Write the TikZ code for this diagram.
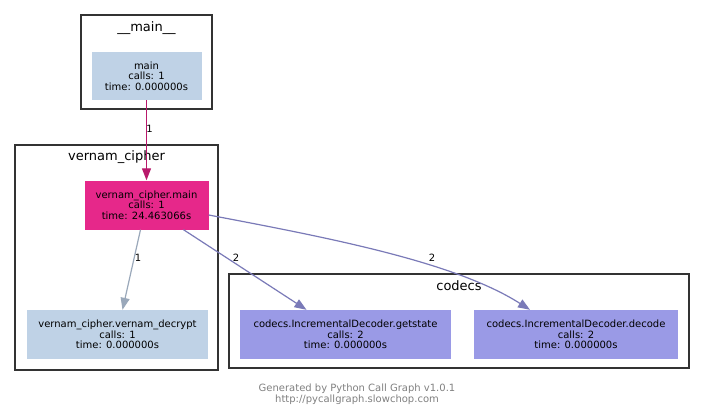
\documentclass[tikz,border=0pt]{standalone}
\usepackage{fontspec}
\setmainfont{DejaVu Sans}
\usetikzlibrary{arrows.meta,calc}
\definecolor{nodeLight}{RGB}{191,210,230}
\definecolor{nodePink}{RGB}{230,40,138}
\definecolor{nodeLav}{RGB}{154,154,230}
\definecolor{edgePink}{RGB}{184,25,107}
\definecolor{edgeGray}{RGB}{154,168,186}
\definecolor{edgeLav}{RGB}{122,122,184}
\definecolor{clusterLine}{RGB}{51,51,51}
\definecolor{footGray}{RGB}{128,128,128}
\tikzset{
  cluster/.style={draw=clusterLine, line width=2.4pt},
  ctitle/.style={font=\fontsize{13}{13}\selectfont, inner sep=0pt},
  fnode/.style={rectangle, inner sep=0pt, align=center, font=\fontsize{10}{10.5}\selectfont, minimum height=49pt},
  call/.style={line width=1.2pt, -{Triangle[length=12pt,width=9pt]}},
  elabel/.style={font=\fontsize{10}{10}\selectfont, inner sep=0pt},
}
\begin{document}
\begin{tikzpicture}[x=1pt,y=-1pt]
\useasboundingbox (0,0) rectangle (704,417);
\fill[white] (0,0) rectangle (704,417);
% clusters
\draw[cluster] (81,15) rectangle (212,109);
\node[ctitle] (tmain) at (146.5,28) {\_\_main\_\_};
\draw[cluster] (15,145) rectangle (218,370);
\node[ctitle] (tvc) at (116.5,157) {vernam\_cipher};
\draw[cluster] (229,274) rectangle (689,368);
\node[ctitle] (tcod) at (459,286) {codecs};
% nodes
\node[fnode, fill=nodeLight, minimum width=110pt, minimum height=48pt] (main) at (146.5,76) {main\\calls: 1\\time: 0.000000s};
\node[fnode, fill=nodePink, minimum width=124pt] (vmain) at (146.5,205) {vernam\_cipher.main\\calls: 1\\time: 24.463066s};
\node[fnode, fill=nodeLight, minimum width=181pt] (decrypt) at (117.5,334.5) {vernam\_cipher.vernam\_decrypt\\calls: 1\\time: 0.000000s};
\node[fnode, fill=nodeLav, minimum width=211pt] (getstate) at (345.5,334.5) {codecs.IncrementalDecoder.getstate\\calls: 2\\time: 0.000000s};
\node[fnode, fill=nodeLav, minimum width=204pt] (decode) at (576,334.5) {codecs.IncrementalDecoder.decode\\calls: 2\\time: 0.000000s};
% edges
\draw[call, draw=edgePink] (main.south) -- (vmain.north);
\node[elabel] (l1) at (149.5,129) {1};
\draw[call, draw=edgeGray] ($(vmain.south)+(-6,0)$) -- ($(decrypt.north)+(5,0)$);
\node[elabel] (l2) at (138,258) {1};
\draw[call, draw=edgeLav] ($(vmain.south)+(37,0)$) -- ($(getstate.north)+(-39,0)$);
\node[elabel] (l3) at (236,258) {2};
\draw[call, draw=edgeLav] ($(vmain.east)+(0,10)$) .. controls (330,238) and (455,262) .. ($(decode.north)+(-46,0)$);
\node[elabel] (l4) at (432,258) {2};
% footer
\node[font=\fontsize{10}{11}\selectfont, text=footGray, align=center, inner sep=0pt] (foot) at (357,394.5) {Generated by Python Call Graph v1.0.1\\http://pycallgraph.slowchop.com};
\end{tikzpicture}
\end{document}
